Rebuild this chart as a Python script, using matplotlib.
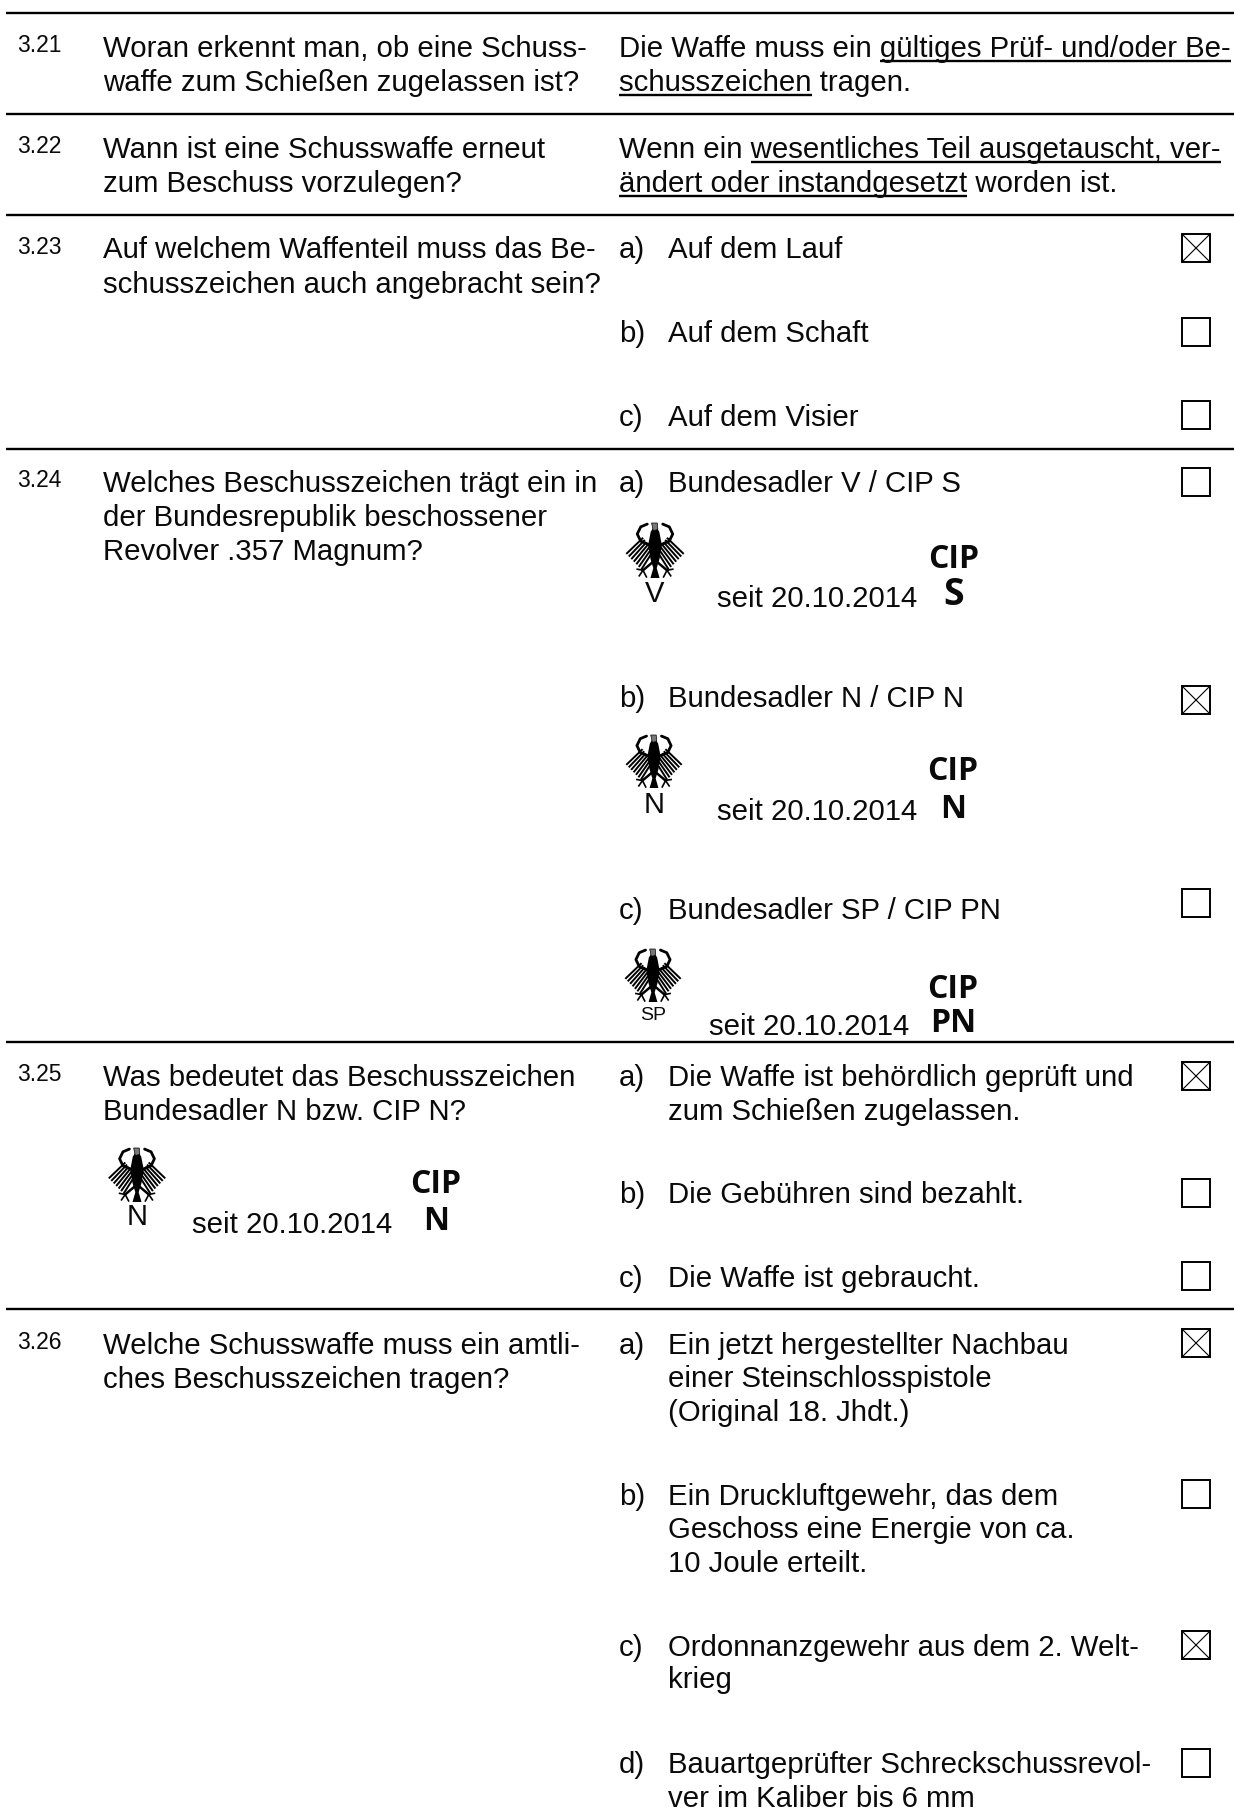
import numpy as np
import matplotlib
matplotlib.use("Agg")
import matplotlib.pyplot as plt
from matplotlib.patches import Polygon, Rectangle

plt.rcParams["font.family"] = ["Liberation Sans", "DejaVu Sans"]

W, H = 1234, 1818
TXT = 21.15
SCHWARZ = "#0a0a0a"

# Inhalt
nummern = ["3.21", "3.22", "3.23", "3.24", "3.25", "3.26"]
fragen = [
    ["Woran erkennt man, ob eine Schuss-", "waffe zum Schießen zugelassen ist?"],
    ["Wann ist eine Schusswaffe erneut", "zum Beschuss vorzulegen?"],
    ["Auf welchem Waffenteil muss das Be-", "schusszeichen auch angebracht sein?"],
    ["Welches Beschusszeichen trägt ein in", "der Bundesrepublik beschossener", "Revolver .357 Magnum?"],
    ["Was bedeutet das Beschusszeichen", "Bundesadler N bzw. CIP N?"],
    ["Welche Schusswaffe muss ein amtli-", "ches Beschusszeichen tragen?"],
]

# freie Antworten: (zeile, unterstrichener teil)
freitext = [
    ("Die Waffe muss ein gültiges Prüf- und/oder Be-", "gültiges Prüf- und/oder Be-"),
    ("schusszeichen tragen.", "schusszeichen"),
    ("Wenn ein wesentliches Teil ausgetauscht, ver-", "wesentliches Teil ausgetauscht, ver-"),
    ("ändert oder instandgesetzt worden ist.", "ändert oder instandgesetzt"),
]

buchstaben = ["a)", "b)", "c)", "a)", "b)", "c)", "a)", "b)", "c)", "a)", "b)", "c)", "d)"]
antworten = [
    ["Auf dem Lauf"],
    ["Auf dem Schaft"],
    ["Auf dem Visier"],
    ["Bundesadler V / CIP S"],
    ["Bundesadler N / CIP N"],
    ["Bundesadler SP / CIP PN"],
    ["Die Waffe ist behördlich geprüft und", "zum Schießen zugelassen."],
    ["Die Gebühren sind bezahlt."],
    ["Die Waffe ist gebraucht."],
    ["Ein jetzt hergestellter Nachbau", "einer Steinschlosspistole", "(Original 18. Jhdt.)"],
    ["Ein Druckluftgewehr, das dem", "Geschoss eine Energie von ca.", "10 Joule erteilt."],
    ["Ordonnanzgewehr aus dem 2. Welt-", "krieg"],
    ["Bauartgeprüfter Schreckschussrevol-", "ver im Kaliber bis 6 mm"],
]
angekreuzt = [1, 0, 0, 0, 1, 0, 1, 0, 0, 1, 0, 1, 0]

adler_label = ["V", "N", "SP", "N"]
cip_label = ["S", "N", "PN", "N"]
seit_text = "seit 20.10.2014"

# Lage auf der Seite (Pixel)
linien_y = [13, 114, 215, 449, 1042, 1309]
nummer_y = [52, 153, 254, 487, 1081, 1349]
frage_y = [[57, 91], [158, 192], [258, 293], [492, 526, 560], [1086, 1120], [1354, 1388]]
frei_y = [57, 91, 158, 192]
antwort_y = [
    [258], [342], [426], [492], [707], [919], [1086, 1120], [1203], [1287],
    [1354, 1387, 1421], [1505, 1538, 1572], [1656, 1688], [1773, 1807],
]
box_y = [234, 318, 401, 468, 686, 889, 1062, 1179, 1262, 1329, 1480, 1631, 1749]
adler_x = [655, 654, 653, 137]
adler_oben = [523, 735, 949, 1148]
adler_unten = [578, 788, 1002, 1202]
label_y = [602, 813, 1020, 1225]
label_pt = [21, 21, 14, 21]
seit_x = [717, 717, 709, 192]
seit_y = [607, 820, 1035, 1233]
cip_x = [954, 953, 953, 436]
cip_y = [568, 780, 998, 1193]
cip2_y = [605, 818, 1032, 1230]
cip2_pt = [27, 23, 23, 23]

fig = plt.figure(figsize=(W / 100, H / 100), dpi=100)
ax = fig.add_axes([0, 0, 1, 1])
ax.set_xlim(0, W)
ax.set_ylim(H, 0)
ax.axis("off")
renderer = fig.canvas.get_renderer()


def txt(x, y, s, size=TXT, **kw):
    return ax.text(x, y, s, fontsize=size, color=SCHWARZ, va="baseline", **kw)


def breite(s, size=TXT):
    # Breite inkl. Leerzeichen am Ende
    a = ax.text(0, 0, s + "x", fontsize=size)
    b = ax.text(0, 0, "x", fontsize=size)
    w = a.get_window_extent(renderer).width - b.get_window_extent(renderer).width
    a.remove()
    b.remove()
    return w


def adler(cx, oben, unten):
    hw = (unten - oben) * 0.52

    def p(u, v):
        return cx + u * hw, oben + v * (unten - oben)

    for s in (-1, 1):
        # Flügelbogen
        bogen = [(-.27, .02), (-.50, .07), (-.62, .20), (-.50, .33), (-.18, .40)]
        ax.plot(*zip(*[p(s * u, v) for u, v in bogen]), color="black", lw=2.0, solid_capstyle="round")
        # Federn
        for t in np.linspace(0, 1, 7):
            a = p(s * (-.44 + .36 * t), .28 + .24 * t)
            b = p(s * (-.98 + .52 * t), .55 + .28 * t)
            ax.plot([a[0], b[0]], [a[1], b[1]], color="black", lw=1.4)
        # Beine und Krallen
        ax.plot(*zip(p(s * .1, .72), p(s * .42, .86)), color="black", lw=1.8)
        for u, v in [(.62, .84), (.55, .96), (.3, .98)]:
            ax.plot(*zip(p(s * .42, .86), p(s * u, v)), color="black", lw=1.2)
    koerper = [(.03, .06), (.15, .16), (.24, .4), (.16, .65), (.06, .82), (.16, 1.0),
               (-.16, 1.0), (-.06, .82), (-.16, .65), (-.24, .4), (-.15, .16), (-.03, .06)]
    ax.add_patch(Polygon([p(u, v) for u, v in koerper], closed=True, facecolor="black", edgecolor="none"))
    ax.add_patch(Polygon([p(u, v) for u, v in [(-.12, .0), (.08, .0), (.1, .12), (-.06, .14)]],
                         closed=True, facecolor="#777777", edgecolor="black", lw=.5))


# Trennlinien
ax.hlines(linien_y, 6, W, color="black", lw=1.7)

for n, y in zip(nummern, nummer_y):
    txt(17, y, n, size=16.5)

for zeilen, ys in zip(fragen, frage_y):
    for z, y in zip(zeilen, ys):
        txt(103, y, z)

# freie Antworten mit Unterstreichung
for (z, teil), y in zip(freitext, frei_y):
    txt(619, y, z)
    vor = z[:z.index(teil)]
    x0 = 619 + breite(vor)
    ax.plot([x0, x0 + breite(teil)], [y + 4, y + 4], color="black", lw=1.7, solid_capstyle="butt")

# Auswahlantworten
for b, zeilen, ys, kreuz, by in zip(buchstaben, antworten, antwort_y, angekreuzt, box_y):
    txt(619, ys[0], b)
    for z, y in zip(zeilen, ys):
        txt(668, y, z)
    ax.add_patch(Rectangle((1182, by), 28, 28, facecolor="none", edgecolor="black", lw=1.4))
    if kreuz:
        ax.plot([1182, 1210], [by, by + 28], color="black", lw=.8)
        ax.plot([1182, 1210], [by + 28, by], color="black", lw=.8)

# Beschusszeichen
for i in range(4):
    adler(adler_x[i], adler_oben[i], adler_unten[i])
    txt(adler_x[i], label_y[i], adler_label[i], size=label_pt[i], ha="center")
    txt(seit_x[i], seit_y[i], seit_text)
    ax.text(cip_x[i], cip_y[i], "CIP", fontsize=23, family=["Open Sans", "DejaVu Sans"],
            fontweight="bold", color=SCHWARZ, ha="center", va="baseline")
    ax.text(cip_x[i], cip2_y[i], cip_label[i], fontsize=cip2_pt[i], family=["Open Sans", "DejaVu Sans"],
            fontweight="bold", color=SCHWARZ, ha="center", va="baseline")

fig.savefig("out.png", dpi=100, facecolor="white")
